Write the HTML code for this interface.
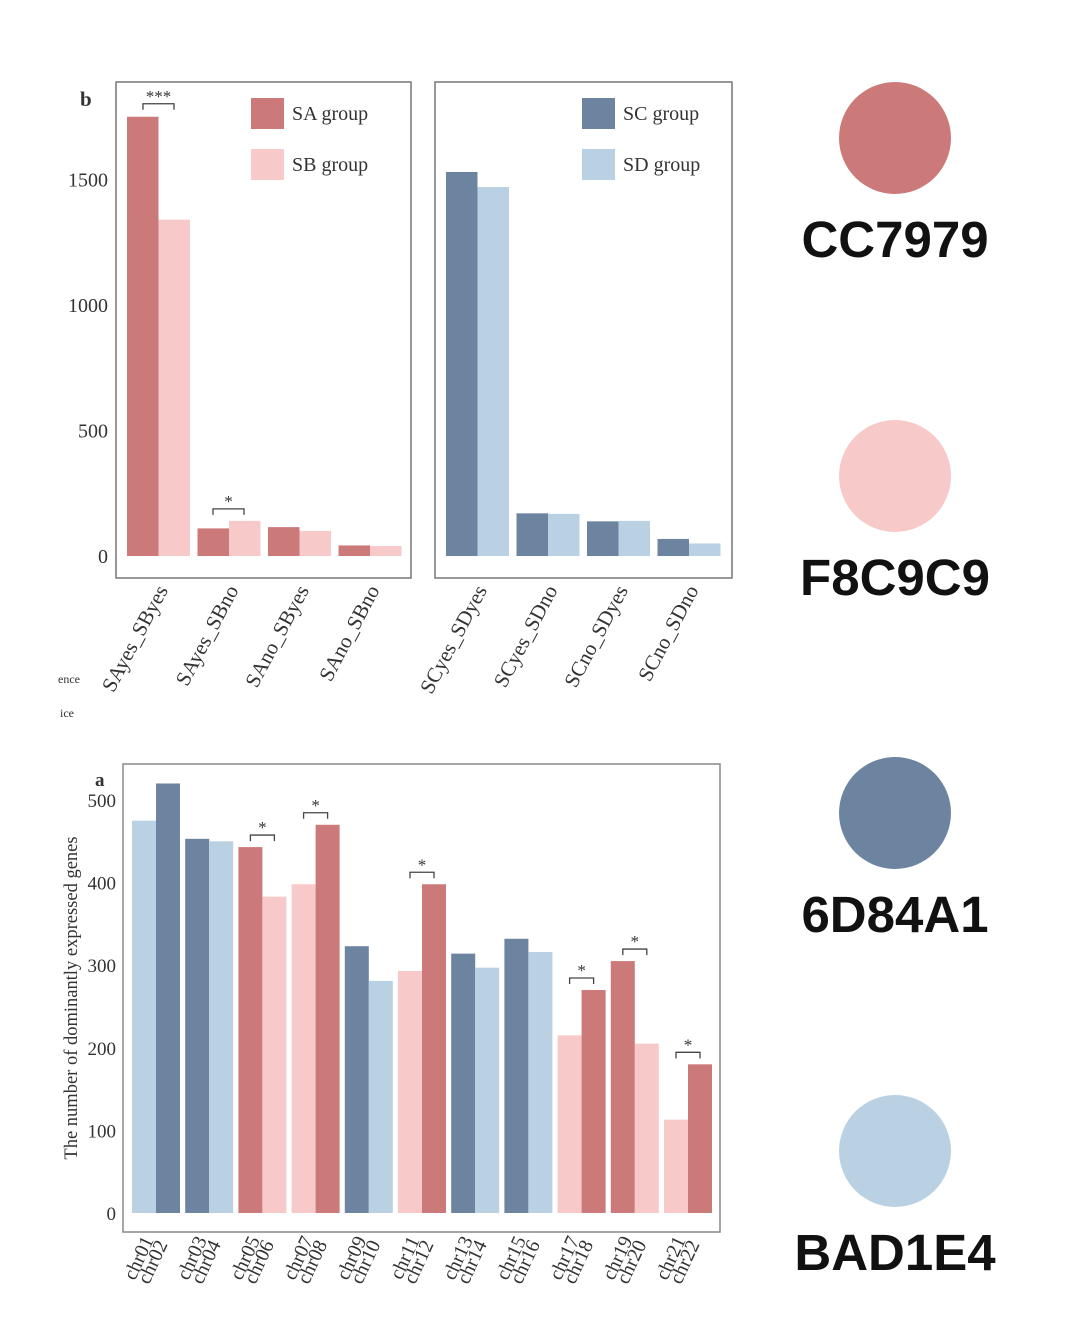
<!DOCTYPE html>
<html><head><meta charset="utf-8"><style>
html,body{margin:0;padding:0;background:#fff;}
svg{display:block;}
.serif{font-family:"Liberation Serif",serif;fill:#333;}
.hex{font-family:"Liberation Sans",sans-serif;font-weight:bold;font-size:51px;fill:#111;}
</style></head><body>
<svg id="svg" width="1068" height="1322" viewBox="0 0 1068 1322" xmlns="http://www.w3.org/2000/svg">
<rect width="1068" height="1322" fill="#fff"/>
<g id="panelB"></g>
<g id="panelA"></g>
<g id="swatches">
 <circle cx="895" cy="138" r="56" fill="#CC7979"/>
 <text x="895" y="257" text-anchor="middle" class="hex">CC7979</text>
 <circle cx="895" cy="476" r="56" fill="#F8C9C9"/>
 <text x="895" y="595" text-anchor="middle" class="hex">F8C9C9</text>
 <circle cx="895" cy="813" r="56" fill="#6D84A1"/>
 <text x="895" y="932" text-anchor="middle" class="hex">6D84A1</text>
 <circle cx="895" cy="1151" r="56" fill="#BAD1E4"/>
 <text x="895" y="1270" text-anchor="middle" class="hex">BAD1E4</text>
</g>
<text x="58" y="683" class="serif" font-size="12" fill="#555">ence</text>
<text x="60" y="717" class="serif" font-size="12" fill="#555">ice</text>
</svg>
<script>
// Panel b data
const bCatsLeft = ["SAyes_SByes","SAyes_SBno","SAno_SByes","SAno_SBno"];
const bSA = [1750, 110, 115, 42];
const bSB = [1340, 140, 100, 40];
const bCatsRight = ["SCyes_SDyes","SCyes_SDno","SCno_SDyes","SCno_SDno"];
const bSC = [1530, 170, 138, 68];
const bSD = [1470, 168, 140, 50];
const bTicks = [0, 500, 1000, 1500];
// Panel a data
const aCats = ["chr01","chr02","chr03","chr04","chr05","chr06","chr07","chr08","chr09","chr10","chr11","chr12","chr13","chr14","chr15","chr16","chr17","chr18","chr19","chr20","chr21","chr22"];
const aValues = [475,520,453,450,443,383,398,470,323,281,293,398,314,297,332,316,215,270,305,205,113,180];
const aColors = ["#BAD1E4","#6D84A1","#6D84A1","#BAD1E4","#CC7979","#F8C9C9","#F8C9C9","#CC7979","#6D84A1","#BAD1E4","#F8C9C9","#CC7979","#6D84A1","#BAD1E4","#6D84A1","#BAD1E4","#F8C9C9","#CC7979","#CC7979","#F8C9C9","#F8C9C9","#CC7979"];
const aSig = [2,3,5,8,9,10];
const aTicks = [0,100,200,300,400,500];

const NS="http://www.w3.org/2000/svg";
function mk(parent, tag, attrs){const e=document.createElementNS(NS,tag);for(const k in attrs)e.setAttribute(k,attrs[k]);parent.appendChild(e);return e;}

// ---- panel b ----
const gB=document.getElementById('panelB');
const yB=v=>556 - v*(125.5/500);
function bPanel(x0,x1,cats,s1,s2,c1,c2,n1,n2,side){
  const frame=mk(gB,'rect',{x:x0,y:82,width:x1-x0,height:496,fill:'none',stroke:'#777','stroke-width':1.5});
  
  
  const gw=70.5, start=x0+11;
  cats.forEach((c,i)=>{
    const gx=start+i*gw, bw=31.5;
    const r1=mk(gB,'rect',{x:gx,y:yB(s1[i]),width:bw,height:yB(0)-yB(s1[i]),fill:c1});
    
    
    const r2=mk(gB,'rect',{x:gx+bw,y:yB(s2[i]),width:bw,height:yB(0)-yB(s2[i]),fill:c2});
    
    
    const cx=gx+bw, ty=590;
    const t=mk(gB,'text',{x:0,y:0,'font-size':21,'text-anchor':'end',class:'serif',transform:`translate(${cx+10},${ty}) rotate(-62)`});
    t.textContent=c;
    
    
  });
  [[n1,c1,98],[n2,c2,149]].forEach(([n,c,y])=>{
    const lx = side==='left'?251:582;
    const s=mk(gB,'rect',{x:lx,y:y,width:33,height:31,fill:c});
    
    
    const t=mk(gB,'text',{x:lx+41,y:y+22,'font-size':20,class:'serif'});
    t.textContent=n+' group';
    
    
  });
}
bPanel(116,411,bCatsLeft,bSA,bSB,'#CC7979','#F8C9C9','SA','SB','left');
bPanel(435,732,bCatsRight,bSC,bSD,'#6D84A1','#BAD1E4','SC','SD','right');
bTicks.forEach(v=>{
  const t=mk(gB,'text',{x:108,y:yB(v)+7,'font-size':20,'text-anchor':'end',class:'serif'});
  t.textContent=v;
  
  
});
const lb=mk(gB,'text',{x:80,y:106,'font-size':21,'font-weight':'bold',class:'serif',fill:'#111'});
lb.textContent='b';


function bracket(g,x1,x2,y,label,name){
  const p=mk(g,'path',{d:`M${x1},${y+6}V${y}H${x2}V${y+6}`,fill:'none',stroke:'#444','stroke-width':1.3});
  
  
  const t=mk(g,'text',{x:(x1+x2)/2,y:y-2,'font-size':17,'text-anchor':'middle',class:'serif'});
  t.textContent=label;
  
  
}
bracket(gB,143,174,yB(bSA[0])-13,'***','sig-sayes-sbyes');
bracket(gB,213,244,yB(Math.max(bSA[1],bSB[1]))-12,'*','sig-sayes-sbno');

// ---- panel a ----
const gA=document.getElementById('panelA');
const yA=v=>1213 - v*0.826;
const fr=mk(gA,'rect',{x:123,y:764,width:597,height:468,fill:'none',stroke:'#888','stroke-width':1.5});


const bw=24, pw=53.2, x0=132;
aCats.forEach((c,i)=>{
  const p=Math.floor(i/2), x=x0+p*pw+(i%2)*bw;
  const r=mk(gA,'rect',{x:x,y:yA(aValues[i]),width:bw,height:yA(0)-yA(aValues[i]),fill:aColors[i]});
  
  
  const lx=x0+p*pw+bw + (i%2 ? 12 : -2);
  const t=mk(gA,'text',{x:0,y:0,'font-size':20,'text-anchor':'end',class:'serif',transform:`translate(${lx},${1240 + (i%2)*4}) rotate(-65)`});
  t.textContent=c;
  
  
});
aSig.forEach(p=>{
  const x=x0+p*pw+bw/2;
  const m=Math.max(aValues[2*p],aValues[2*p+1]);
  bracket(gA,x,x+bw,yA(m)-12,'*','sig-'+aCats[2*p]+'-'+aCats[2*p+1]);
});
aTicks.forEach(v=>{
  const t=mk(gA,'text',{x:116,y:yA(v)+7,'font-size':19,'text-anchor':'end',class:'serif'});
  t.textContent=v;
  
  
});
const yt=mk(gA,'text',{x:0,y:0,'font-size':18.5,'text-anchor':'middle',class:'serif',transform:'translate(77,998) rotate(-90)'});
yt.textContent='The number of dominantly expressed genes';


const la=mk(gA,'text',{x:95,y:786,'font-size':19,'font-weight':'bold',class:'serif',fill:'#111'});
la.textContent='a';


</script>
</body></html>
